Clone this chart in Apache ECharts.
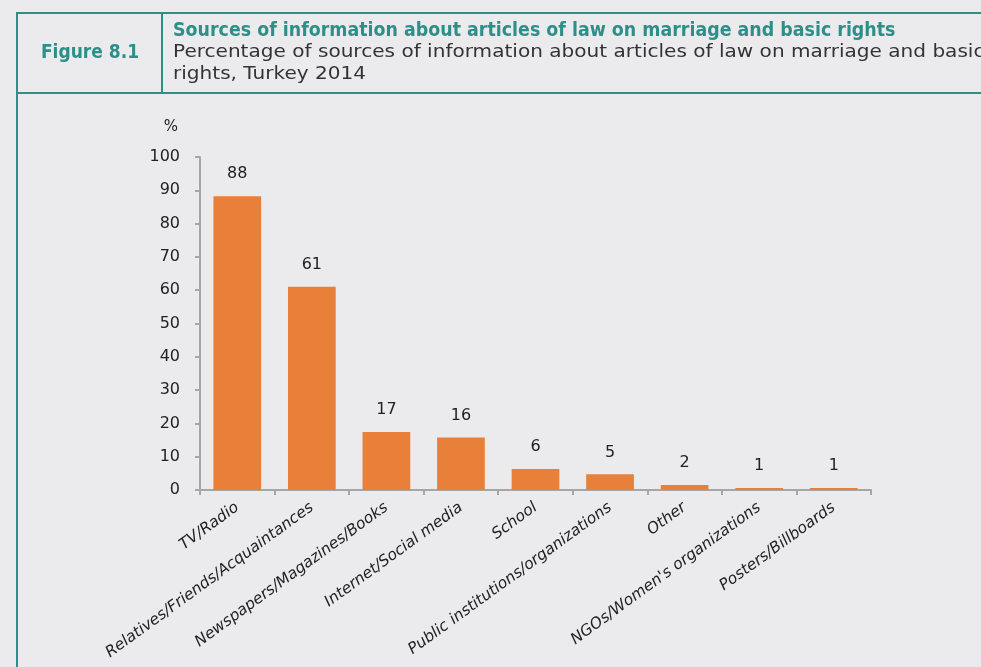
<!DOCTYPE html>
<html><head><meta charset="utf-8">
<script src="https://cdn.jsdelivr.net/npm/echarts@6/dist/echarts.min.js"></script>
<style>html,body{margin:0;padding:0;background:#ebebed;}#c{width:981px;height:667px;}</style>
</head><body><div id="c"></div>
<script>
const categories = ["TV/Radio","Relatives/Friends/Acquaintances","Newspapers/Magazines/Books","Internet/Social media","School","Public institutions/organizations","Other","NGOs/Women's organizations","Posters/Billboards"];
const values = [88.2, 61.0, 17.4, 15.8, 6.3, 4.7, 1.5, 0.6, 0.6];
const yTicks = {min: 0, max: 100, interval: 10};
const figLabel = "Figure 8.1";
const titleText = "Sources of information about articles of law on marriage and basic rights";
const subLine1 = "Percentage of sources of information about articles of law on marriage and basic";
const subLine2 = "rights, Turkey 2014";

const teal = "#2e8f89";
const chart = echarts.init(document.getElementById('c'));
chart.setOption({
  backgroundColor: "#ebebed",
  animation: false,
  grid: {left: 200, right: 110, top: 157, bottom: 177},
  xAxis: {
    type: 'category', data: categories,
    axisLine: {lineStyle: {color: '#a6a6a6', width: 2}},
    axisTick: {show: true, length: 5, lineStyle: {color: '#a6a6a6', width: 2}},
    axisLabel: {rotate: 36, interval: 0, fontStyle: 'italic', fontFamily: 'DejaVu Sans', fontSize: 15.5, color: '#222', margin: 16}
  },
  yAxis: {
    type: 'value', min: yTicks.min, max: yTicks.max, interval: yTicks.interval,
    name: '%', nameLocation: 'end', nameGap: 22,
    nameTextStyle: {fontFamily: 'DejaVu Sans', fontSize: 15, color: '#222', align: 'right', padding: [0, 22, 0, 0]},
    splitLine: {show: false},
    axisLine: {show: true, lineStyle: {color: '#a6a6a6', width: 2}},
    axisTick: {show: true, length: 5, lineStyle: {color: '#a6a6a6', width: 2}},
    axisLabel: {fontFamily: 'DejaVu Sans', fontSize: 16, color: '#222', margin: 20}
  },
  series: [{
    type: 'bar', data: values, barWidth: '64%',
    itemStyle: {color: '#e8803a'},
    label: {show: true, position: 'top', distance: 14, fontFamily: 'DejaVu Sans', fontSize: 16, color: '#222',
      formatter: p => String(Math.round(p.value))}
  }],
  graphic: [
    {type: 'rect', shape: {x: 17, y: 13, width: 1000, height: 80}, style: {fill: 'none', stroke: teal, lineWidth: 2}},
    {type: 'line', shape: {x1: 162, y1: 13, x2: 162, y2: 93}, style: {stroke: teal, lineWidth: 2}},
    {type: 'line', shape: {x1: 17, y1: 93, x2: 17, y2: 667}, style: {stroke: teal, lineWidth: 2}},
    {type: 'text', x: 90, y: 53, style: {text: figLabel, fill: teal, font: 'bold 19px "DejaVu Sans Condensed", "DejaVu Sans"', textAlign: 'center', textVerticalAlign: 'middle'}},
    {type: 'text', x: 173, y: 31, scaleX: 1.02, style: {text: titleText, fill: teal, font: 'bold 19px "DejaVu Sans Condensed", "DejaVu Sans"', textAlign: 'left', textVerticalAlign: 'middle'}},
    {type: 'text', x: 173, y: 53, scaleX: 1.18, style: {text: subLine1, fill: '#333', font: '17px "DejaVu Sans"', textAlign: 'left', textVerticalAlign: 'middle'}},
    {type: 'text', x: 173, y: 75, scaleX: 1.18, style: {text: subLine2, fill: '#333', font: '17px "DejaVu Sans"', textAlign: 'left', textVerticalAlign: 'middle'}}
  ]
});
</script></body></html>
